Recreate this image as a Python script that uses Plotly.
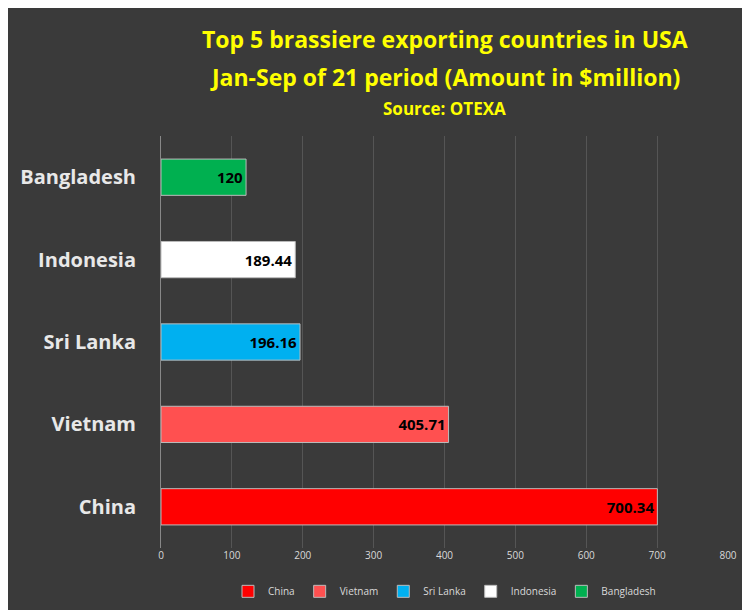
import plotly.graph_objects as go

countries = ["China", "Vietnam", "Sri Lanka", "Indonesia", "Bangladesh"]
values = [700.34, 405.71, 196.16, 189.44, 120]
labels = ["700.34", "405.71", "196.16", "189.44", "120"]
colors = ["#ff0000", "#ff5050", "#00b0f0", "#ffffff", "#00b050"]
title_lines = ["Top 5 brassiere exporting countries in USA",
               "Jan-Sep of 21 period (Amount in $million)",
               "Source: OTEXA"]

fig = go.Figure()
for c, v, t, col in zip(countries, values, labels, colors):
    fig.add_trace(go.Bar(
        y=[c], x=[v], name=c, orientation="h", width=0.44,
        marker=dict(color=col, line=dict(color="#bbbbbb", width=1)),
        text=[t], textposition="inside", insidetextanchor="end",
        textfont=dict(color="black", size=15, family="Open Sans", weight="bold"),
    ))

# title as three separate lines to control spacing
for txt, ypx, size in zip(title_lines, [30, 68, 100], [23, 23, 17]):
    fig.add_annotation(text=txt, xref="paper", yref="paper", x=0.5, xanchor="center",
                       y=1 + (128 - ypx) / 417, yanchor="middle", showarrow=False,
                       font=dict(size=size, color="#ffff00", family="Open Sans", weight="bold"))

fig.update_layout(
    width=750, height=610,
    barmode="overlay",
    paper_bgcolor="#3a3a3a", plot_bgcolor="rgba(0,0,0,0)",
    font=dict(family="Open Sans", color="#d9d9d9"),
    margin=dict(l=150, r=30, t=128, b=65),
    legend=dict(orientation="h", x=0.5, xanchor="center", y=-0.07, yanchor="top",
                font=dict(size=10, color="#d9d9d9"), itemwidth=30, traceorder="normal"),
    showlegend=True,
)
fig.update_xaxes(range=[0, 800], dtick=100, showgrid=True, gridcolor="#555555",
                 zeroline=False, tickfont=dict(size=10, color="#d9d9d9"))
fig.update_yaxes(categoryorder="array", categoryarray=countries, showgrid=False,
                 showline=True, linecolor="#888888", ticks="",
                 tickfont=dict(size=20, color="#e8e8e8", family="Open Sans", weight="bold"),
                 ticklabelstandoff=20)

fig.write_html("out.html")
